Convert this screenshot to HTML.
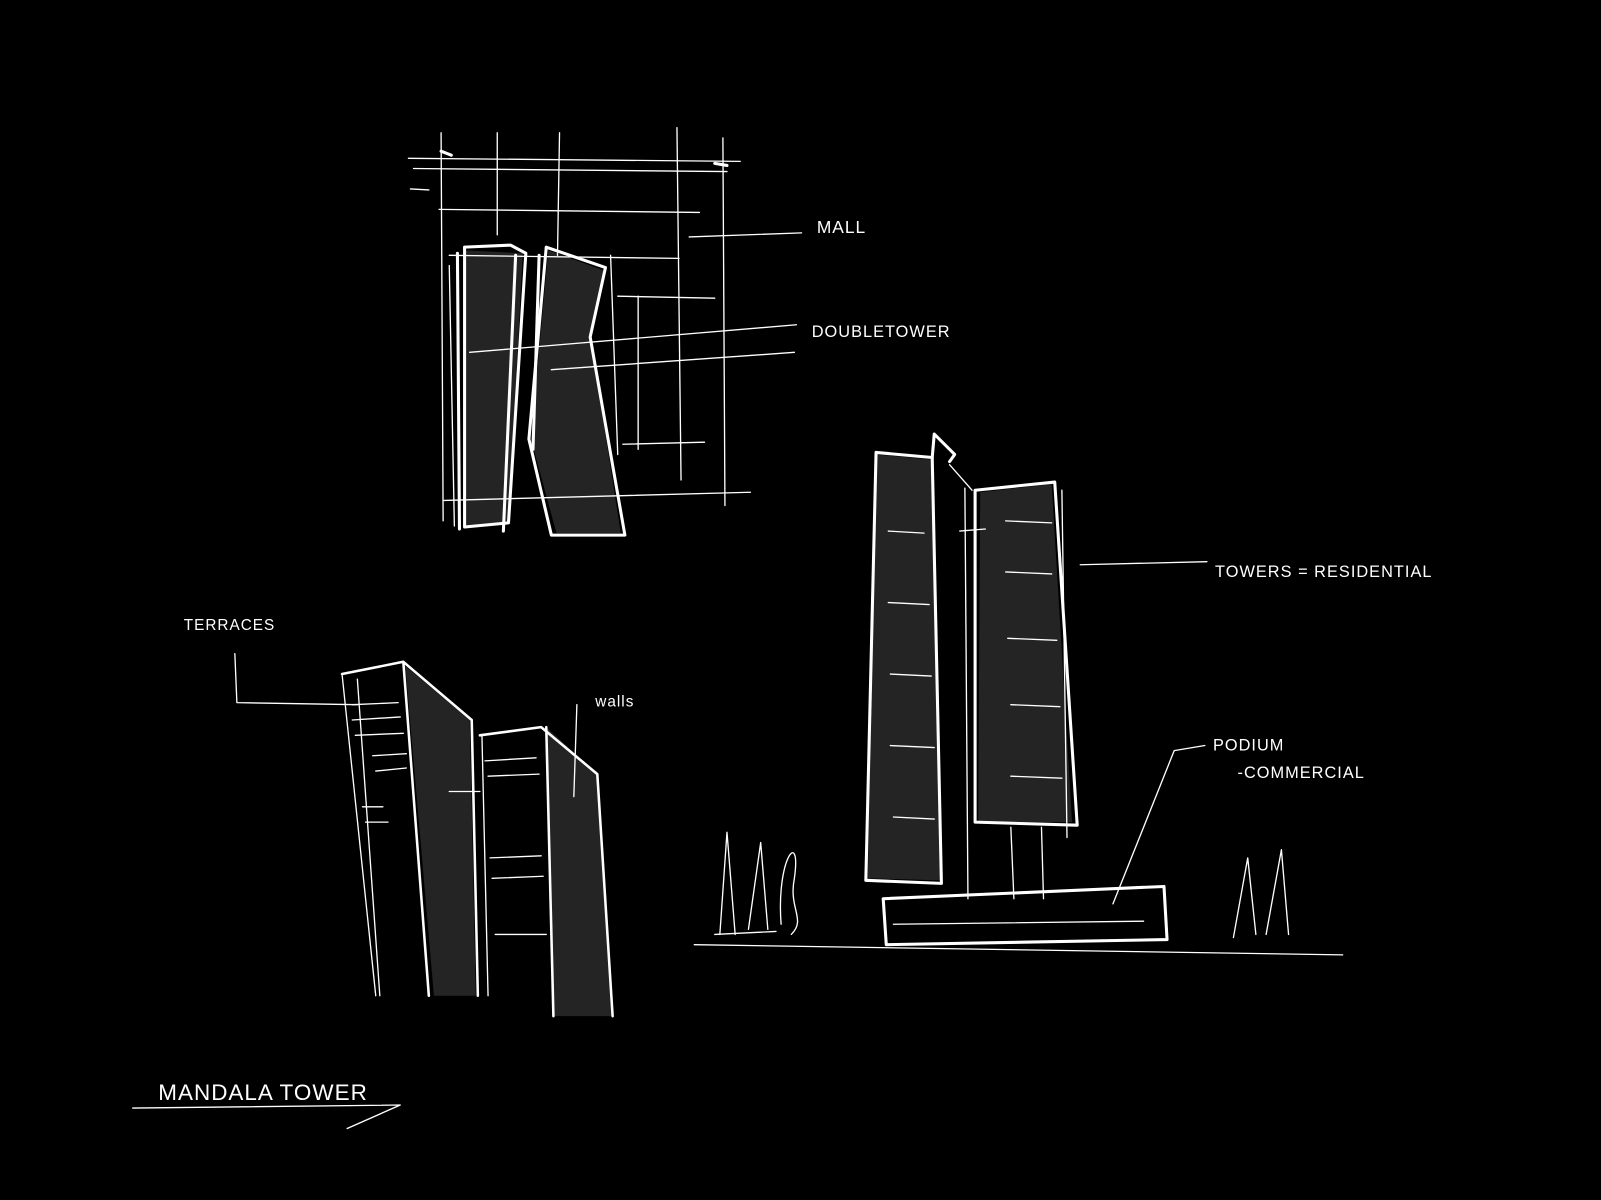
<!DOCTYPE html>
<html><head><meta charset="utf-8"><style>
html,body{margin:0;padding:0;background:#000;width:1601px;height:1200px;overflow:hidden}
svg{display:block}
text{font-family:"Liberation Sans",sans-serif;fill:#fff;font-size:17px;letter-spacing:1px}
</style></head><body>
<svg width="1601" height="1200" viewBox="0 0 1568 1175" preserveAspectRatio="none">
<g fill="#242424" stroke="none">
<polygon points="455,245 512,248 498,512 455,515"/>
<polygon points="537,245 592,265 578,330 608,522 545,522 520,430"/>
<polygon points="858,445 913,450 922,862 850,860"/>
<polygon points="960,482 1030,474 1050,805 958,805"/>
<polygon points="397,652 460,705 466,975 425,975"/>
<polygon points="535,712 585,758 600,995 542,995"/>
</g>
<g stroke="#fff" fill="none" stroke-linecap="round" stroke-linejoin="round">
<g stroke-width="1.3">
<path d="M400,155 L725,158 M405,165 L712,168 M430,205 L685,208 M440,250 L665,253 M605,290 L700,292 M460,345 L780,318 M540,362 L778,345 M610,435 L690,433 M435,490 L735,482"/>
<path d="M432,130 L434,510 M487,130 L487,230 M548,130 L546,250 M663,125 L667,470 M708,135 L710,495 M440,260 L445,515 M598,250 L605,445 M625,290 L625,440"/>
<path d="M675,232 L785,228 M402,185 L420,186"/>
</g>
<g stroke-width="3">
<path d="M455,242 L500,240 L515,248 L498,512 L455,516 Z"/>
<path d="M535,242 L593,262 L578,330 L612,524 L540,524 L518,430 L535,242"/>
<path d="M448,248 L450,518 M505,250 L493,520 M528,250 L522,440"/>
<path d="M432,148 L442,152 M700,160 L712,162"/>
</g>
<g stroke-width="3">
<path d="M858,443 L913,448 L922,865 L848,862 Z"/>
<path d="M913,448 L915,425 L935,445 L930,452"/>
<path d="M955,480 L1033,472 L1055,808 L955,805 Z"/>
<path d="M865,880 L1140,868 L1143,920 L868,925 Z"/>
</g>
<g stroke-width="1.3">
<path d="M945,478 L948,880 M940,520 L965,518 M930,455 L952,480 M1040,480 L1045,820 M990,810 L993,880 M1020,810 L1022,880 M875,905 L1120,902 M680,925 L1315,935 M700,915 L760,912 M1058,553 L1182,550 M1090,885 L1150,735 L1180,730"/>
<path d="M870,520 L905,522 M870,590 L910,592 M872,660 L912,662 M872,730 L915,732 M875,800 L915,802 M985,510 L1030,512 M985,560 L1030,562 M987,625 L1035,627 M990,690 L1038,692 M990,760 L1040,762"/>
<path d="M705,915 L712,815 L720,915 M733,910 L745,825 L752,910 M765,905 C760,840 785,810 778,860 C772,890 790,900 775,915"/>
<path d="M1208,918 L1222,840 L1230,915 M1240,915 L1255,832 L1262,915"/>
</g>
<g stroke-width="2.5">
<path d="M335,660 L395,648 L462,705 M462,705 L468,975 M395,648 L420,975 M470,720 L530,712 L585,758 L600,995 M535,712 L542,995"/>
</g>
<g stroke-width="1.3">
<path d="M335,660 L368,975 M350,665 L372,975 M472,720 L478,975 M230,640 L232,688 L350,690 M565,690 L562,780"/>
<path d="M345,690 L390,688 M345,705 L392,702 M348,720 L395,718 M365,740 L398,738 M368,755 L398,752 M355,790 L375,790 M358,805 L380,805 M475,745 L525,742 M478,760 L528,758 M480,840 L530,838 M482,860 L532,858 M485,915 L535,915 M440,775 L470,775"/>
<path d="M130,1085 L392,1082 L340,1105"/>
</g>
</g>
<text x="800" y="228">MALL</text>
<text x="795" y="330" style="font-size:16px">DOUBLETOWER</text>
<text x="1190" y="565" style="font-size:16px">TOWERS = RESIDENTIAL</text>
<text x="1188" y="735" style="font-size:16px">PODIUM</text>
<text x="1212" y="762" style="font-size:16px">-COMMERCIAL</text>
<text x="180" y="617" style="font-size:15px">TERRACES</text>
<text x="583" y="692" style="font-size:15px">walls</text>
<text x="155" y="1077" style="font-size:22px">MANDALA TOWER</text>
</svg>
</body></html>
